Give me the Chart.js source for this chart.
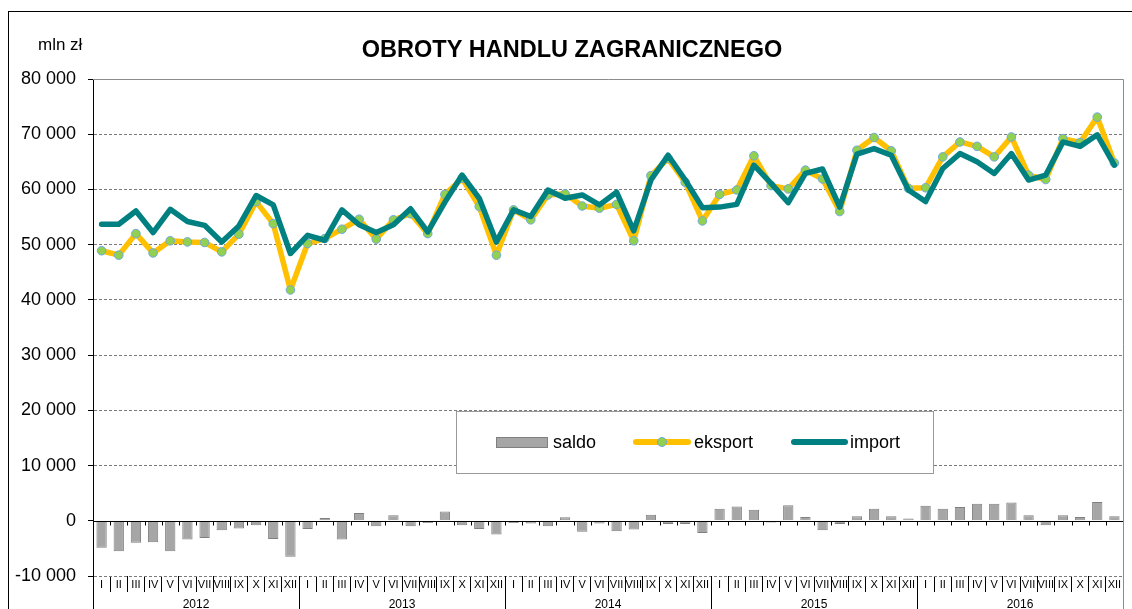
<!DOCTYPE html>
<html>
<head>
<meta charset="utf-8">
<script src="https://cdn.jsdelivr.net/npm/chart.js@4.4.1/dist/chart.umd.min.js"></script>
<style>
  body { margin: 0; background: #fff; }
  canvas { display: block; }
</style>
</head>
<body>
<canvas id="chart" width="1132" height="609"></canvas>
<script>
// months and years on the category axis
const months = ['I','II','III','IV','V','VI','VII','VIII','IX','X','XI','XII'];
const years = ['2012','2013','2014','2015','2016'];

// mln zł
const saldo = [
  -4900, -5500, -4000, -3900, -5500, -3400, -3100, -1700, -1400, -800, -3300, -6500,
  -1500, 500, -3400, 1400, -1000, 1000, -1000, -400, 1700, -800, -1500, -2500,
  -400, -500, -1000, 650, -2000, -500, -1900, -1600, 1100, -600, -600, -2200,
  2200, 2600, 2000, -300, 2800, 700, -1700, -600, 800, 2200, 800, 400,
  2700, 2200, 2500, 3100, 3100, 3300, 1000, -800, 1000, 700, 3400, 800
];
const eksport = [
  48900, 48100, 52000, 48500, 50700, 50500, 50400, 48700, 51900, 57800, 53800, 41800,
  50200, 51100, 52800, 54600, 51000, 54500, 55600, 52000, 59100, 62000, 56900, 48100,
  56300, 54500, 59000, 59200, 57000, 56600, 57300, 50700, 62500, 65600, 61300, 54300,
  59100, 59900, 66100, 60700, 60100, 63500, 61900, 56000, 67100, 69400, 67000, 60200,
  60300, 65900, 68600, 67800, 65900, 69500, 62600, 61800, 69200, 68500, 73100, 64800
];
const importVals = [
  53700, 53700, 56100, 52200, 56400, 54200, 53500, 50500, 53400, 58900, 57200, 48400,
  51700, 50800, 56300, 53600, 52200, 53600, 56500, 52300, 57700, 62600, 58400, 50500,
  56300, 55100, 59900, 58400, 59000, 57200, 59500, 52500, 61700, 66200, 61700, 56700,
  56800, 57300, 64400, 61100, 57600, 62900, 63700, 56800, 66400, 67400, 66200, 59900,
  57800, 63800, 66500, 65000, 62900, 66500, 61700, 62600, 68600, 67800, 69900, 64400
];

const yMin = -10000, yMax = 80000, yStep = 10000;

const labels = years.flatMap(() => months);
const FONT = '"Liberation Sans", Arial, sans-serif';

function fmt(v) {
  return String(v).replace(/\B(?=(\d{3})+(?!\d))/g, ' ');
}

function boundary(x, i) {
  const w = x.getPixelForValue(1) - x.getPixelForValue(0);
  return x.getPixelForValue(i) - w / 2;
}

const decor = {
  id: 'decor',
  afterDatasetsDraw(chart) {
    const {ctx, chartArea: a, scales: {x, y}} = chart;
    const y0 = Math.round(y.getPixelForValue(0)) + 0.5;
    ctx.save();
    ctx.strokeStyle = '#000';
    ctx.lineWidth = 1;
    ctx.beginPath();
    ctx.moveTo(a.left, y0);
    ctx.lineTo(a.right, y0);
    for (let i = 1; i < labels.length; i++) {
      const px = Math.round(boundary(x, i)) + 0.5;
      ctx.moveTo(px, y0);
      ctx.lineTo(px, y0 + 4);
    }
    ctx.stroke();
    ctx.restore();
  },
  afterDraw(chart) {
    const {ctx, chartArea: a, scales: {x}} = chart;
    ctx.save();

    // outer frame
    ctx.strokeStyle = '#000';
    ctx.lineWidth = 1;
    ctx.strokeRect(8.5, 11.5, 1200, 700);

    // title + unit
    ctx.fillStyle = '#000';
    ctx.textBaseline = 'middle';
    ctx.textAlign = 'center';
    ctx.font = 'bold 23.5px ' + FONT;
    ctx.fillText('OBROTY HANDLU ZAGRANICZNEGO', 572, 51);
    ctx.textAlign = 'left';
    ctx.font = '17px ' + FONT;
    ctx.fillText('mln zł', 38, 45);

    // plot border top/right
    ctx.strokeStyle = '#8c8c8c';
    ctx.beginPath();
    ctx.moveTo(a.left, a.top + 0.5);
    ctx.lineTo(a.right + 0.5, a.top + 0.5);
    ctx.lineTo(a.right + 0.5, 609);
    ctx.stroke();

    // year separators and labels
    ctx.strokeStyle = '#000';
    ctx.beginPath();
    for (let k = 0; k <= years.length; k++) {
      const px = Math.round(boundary(x, k * 12)) + 0.5;
      if (k === years.length) continue;
      ctx.moveTo(px, a.bottom);
      ctx.lineTo(px, 609);
    }
    ctx.stroke();
    ctx.font = '12px ' + FONT;
    ctx.textAlign = 'center';
    years.forEach((yr, k) => {
      const cx = (boundary(x, k * 12) + boundary(x, k * 12 + 12)) / 2;
      ctx.fillText(yr, cx, 605);
    });

    // legend box
    ctx.fillStyle = '#fff';
    ctx.fillRect(456, 411, 477, 62);
    ctx.strokeStyle = '#9a9a9a';
    ctx.strokeRect(456.5, 411.5, 477, 62);

    const ly = 442;
    ctx.fillStyle = '#a6a6a6';
    ctx.fillRect(496, 437, 51, 10);
    ctx.strokeStyle = '#7f7f7f';
    ctx.strokeRect(496.5, 437.5, 51, 10);

    ctx.lineCap = 'round';
    ctx.lineWidth = 6;
    ctx.strokeStyle = '#ffc000';
    ctx.beginPath();
    ctx.moveTo(636, ly);
    ctx.lineTo(688, ly);
    ctx.stroke();
    ctx.lineWidth = 1;
    ctx.fillStyle = '#92d050';
    ctx.strokeStyle = '#6fa8dc';
    ctx.beginPath();
    ctx.arc(662, ly, 4.5, 0, Math.PI * 2);
    ctx.fill();
    ctx.stroke();

    ctx.lineWidth = 6;
    ctx.strokeStyle = '#008080';
    ctx.beginPath();
    ctx.moveTo(794, ly);
    ctx.lineTo(845, ly);
    ctx.stroke();

    ctx.fillStyle = '#000';
    ctx.textAlign = 'left';
    ctx.font = '18px ' + FONT;
    ctx.fillText('saldo', 553, ly + 1);
    ctx.fillText('eksport', 694, ly + 1);
    ctx.fillText('import', 850, ly + 1);

    ctx.restore();
  }
};

new Chart(document.getElementById('chart'), {
  type: 'bar',
  data: {
    labels: labels,
    datasets: [{
      type: 'line',
      label: 'import',
      data: importVals,
      borderColor: '#008080',
      borderWidth: 5.5,
      pointRadius: 0,
      tension: 0,
      borderJoinStyle: 'round',
      borderCapStyle: 'round',
      order: 0
    }, {
      type: 'line',
      label: 'eksport',
      data: eksport,
      borderColor: '#ffc000',
      borderWidth: 5.5,
      pointRadius: 4.3,
      pointBackgroundColor: '#92d050',
      pointBorderColor: '#6fa8dc',
      pointBorderWidth: 1,
      tension: 0,
      borderJoinStyle: 'round',
      borderCapStyle: 'round',
      order: 1
    }, {
      label: 'saldo',
      data: saldo,
      backgroundColor: '#a6a6a6',
      borderColor: '#7f7f7f',
      borderWidth: 1,
      categoryPercentage: 0.6,
      barPercentage: 1,
      order: 2
    }]
  },
  options: {
    responsive: false,
    animation: false,
    layout: {
      padding: { top: 79, right: 9, left: 0, bottom: 0 }
    },
    plugins: {
      legend: { display: false },
      title: { display: false },
      tooltip: { enabled: false }
    },
    scales: {
      x: {
        offset: true,
        grid: {
          offset: true,
          drawOnChartArea: false,
          tickLength: 16,
          color: '#000'
        },
        border: { display: false },
        ticks: {
          autoSkip: false,
          maxRotation: 0,
          padding: -14,
          color: '#000',
          font: { size: 11, family: FONT }
        },
        afterFit(scale) { scale.height = 33; }
      },
      y: {
        min: yMin,
        max: yMax,
        grid: {
          color: (c) => c.tick && c.tick.value === 0 ? 'rgba(0,0,0,0)' : '#7a7a7a',
          tickColor: '#000',
          tickLength: 5
        },
        border: { display: true, color: '#000', dash: [3, 2] },
        ticks: {
          stepSize: yStep,
          padding: 12,
          color: '#000',
          font: { size: 18, family: FONT },
          callback: (v) => fmt(v)
        },
        afterFit(scale) { scale.width = 93; }
      }
    }
  },
  plugins: [decor]
});
</script>
</body>
</html>
